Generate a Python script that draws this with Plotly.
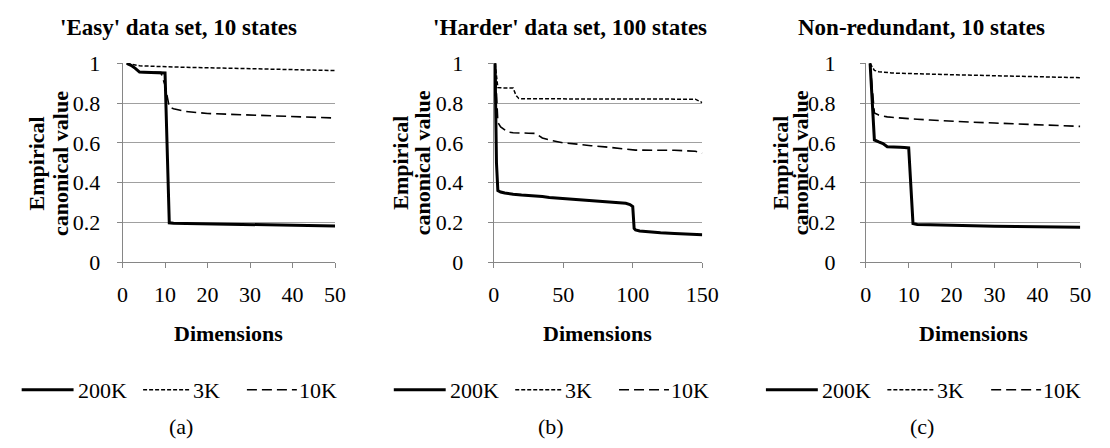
import plotly.graph_objects as go

W, H = 1110, 448

# ---------------- data ----------------
a_x = [1, 2, 3, 4, 5, 6, 7, 8, 9, 10, 11, 12, 15, 20, 25, 30, 35, 40, 45, 50]
a_200k = [1.0, 0.99, 0.975, 0.956, 0.955, 0.955, 0.954, 0.954, 0.953, 0.952,
          0.198, 0.196, 0.195, 0.193, 0.191, 0.189, 0.187, 0.186, 0.184, 0.182]
a_3k = [1.0, 0.995, 0.99, 0.988, 0.987, 0.986, 0.986, 0.985, 0.984, 0.983,
        0.982, 0.981, 0.98, 0.978, 0.976, 0.973, 0.971, 0.968, 0.966, 0.964]
a_10k = [1.0, 0.99, 0.975, 0.958, 0.957, 0.956, 0.956, 0.955, 0.955, 0.89,
         0.78, 0.772, 0.758, 0.748, 0.744, 0.74, 0.735, 0.73, 0.727, 0.725]

b_x = [1, 2, 3, 5, 8, 10, 14, 16, 18, 20, 25, 30, 32, 35, 40, 46, 50, 60, 65, 70,
       80, 88, 95, 98, 100, 101, 102, 105, 110, 120, 130, 140, 145, 150]
b_200k = [1.0, 0.5, 0.36, 0.353, 0.348, 0.345, 0.342, 0.341, 0.339, 0.338, 0.336,
          0.334, 0.332, 0.33, 0.326, 0.323, 0.322, 0.316, 0.313, 0.311, 0.305,
          0.301, 0.296, 0.29, 0.28, 0.17, 0.162, 0.157, 0.153, 0.148, 0.145,
          0.142, 0.14, 0.138]
b_3k = [1.0, 0.93, 0.878, 0.877, 0.877, 0.877, 0.876, 0.84, 0.824, 0.822, 0.822,
        0.822, 0.822, 0.822, 0.822, 0.822, 0.822, 0.822, 0.822, 0.822, 0.822,
        0.822, 0.822, 0.822, 0.822, 0.822, 0.822, 0.822, 0.822, 0.822, 0.822,
        0.821, 0.82, 0.803]
b_10k = [1.0, 0.8, 0.703, 0.68, 0.665, 0.655, 0.651, 0.65, 0.65, 0.65, 0.649,
         0.648, 0.64, 0.625, 0.615, 0.604, 0.6, 0.594, 0.589, 0.586, 0.58,
         0.573, 0.568, 0.566, 0.565, 0.564, 0.564, 0.564, 0.563, 0.563, 0.563,
         0.562, 0.558, 0.549]

c_x = [1, 2, 3, 4, 5, 6, 7, 8, 9, 10, 11, 12, 15, 20, 25, 30, 35, 40, 45, 50]
c_200k = [1.0, 0.615, 0.605, 0.597, 0.581, 0.579, 0.578, 0.578, 0.577, 0.575,
          0.195, 0.19, 0.188, 0.185, 0.183, 0.181, 0.18, 0.178, 0.177, 0.176]
c_3k = [1.0, 0.965, 0.958, 0.955, 0.953, 0.952, 0.951, 0.95, 0.95, 0.949,
        0.948, 0.947, 0.946, 0.943, 0.94, 0.937, 0.934, 0.932, 0.93, 0.928]
c_10k = [1.0, 0.75, 0.74, 0.735, 0.731, 0.729, 0.727, 0.725, 0.723, 0.722,
         0.72, 0.719, 0.715, 0.708, 0.704, 0.7, 0.696, 0.691, 0.687, 0.683]

series_names = ["200K", "3K", "10K"]
titles = ["'Easy' data set, 10 states", "'Harder' data set, 100 states",
          "Non-redundant, 10 states"]
sub_labels = ["(a)", "(b)", "(c)"]
x_ticks_a = [0, 10, 20, 30, 40, 50]
x_ticks_b = [0, 50, 100, 150]
x_ticks_c = [0, 10, 20, 30, 40, 50]
y_ticks = [0, 0.2, 0.4, 0.6, 0.8, 1]
y_tick_text = ["0", "0.2", "0.4", "0.6", "0.8", "1"]
x_title = "Dimensions"
y_title_lines = ["Empirical", "canonical value"]

# ---------------- layout helpers ----------------
FONT = "'Liberation Serif', 'Times New Roman', Times, serif"
GRID = "#a0a0a0"
AXIS = "#868686"
FS = 22

styles = {
    "200K": dict(color="black", width=3, dash="solid"),
    "3K": dict(color="black", width=1.5, dash="4px,2px"),
    "10K": dict(color="black", width=1.6, dash="10px,5px"),
}

def px(x):
    return x / W

def py(y):
    return 1 - y / H

panels = [
    dict(x=a_x, data={"200K": a_200k, "3K": a_3k, "10K": a_10k}, xt=x_ticks_a,
         xr=[0, 50], dom=(119, 336), title_cx=176, yt=(31, 55), ystand=12,
         sub_cx=179, off=0),
    dict(x=b_x, data={"200K": b_200k, "3K": b_3k, "10K": b_10k}, xt=x_ticks_b,
         xr=[0, 150], dom=(498, 711), title_cx=576, yt=(402, 425), ystand=20,
         sub_cx=557, off=380),
    dict(x=c_x, data={"200K": c_200k, "3K": c_3k, "10K": c_10k}, xt=x_ticks_c,
         xr=[0, 50], dom=(878, 1097), title_cx=935, yt=(790, 811), ystand=20,
         sub_cx=935, off=760),
]

PLOT_TOP, PLOT_BOT = 54, 265

fig = go.Figure()
annotations = []
shapes = []

for i, p in enumerate(panels):
    n = "" if i == 0 else str(i + 1)
    xa, ya = "x" + n, "y" + n
    for name in ["10K", "3K", "200K"]:
        fig.add_trace(go.Scatter(x=p["x"], y=p["data"][name], mode="lines",
                                 name=name, line=styles[name], showlegend=False,
                                 xaxis=xa, yaxis=ya))
    fig.update_layout({
        "xaxis" + n: dict(domain=[px(p["dom"][0]), px(p["dom"][1])], range=p["xr"],
                          anchor=ya, tickvals=p["xt"], showgrid=False, zeroline=False,
                          showline=True, linecolor=AXIS, linewidth=1,
                          ticks="outside", ticklen=5, tickcolor=AXIS, tickwidth=1,
                          ticklabelstandoff=7,
                          tickfont=dict(family=FONT, size=FS, color="black")),
        "yaxis" + n: dict(domain=[py(PLOT_BOT), py(PLOT_TOP)], range=[0, 1.002],
                          anchor=xa, tickvals=y_ticks, ticktext=y_tick_text,
                          showgrid=True, gridcolor=GRID, gridwidth=1, zeroline=False,
                          showline=True, linecolor=AXIS, linewidth=1,
                          ticks="outside", ticklen=5, tickcolor=AXIS, tickwidth=1,
                          ticklabelstandoff=p["ystand"],
                          tickfont=dict(family=FONT, size=FS, color="black")),
    })
    # title
    annotations.append(dict(text="<b>" + titles[i] + "</b>", x=px(p["title_cx"]), y=py(16),
                            xref="paper", yref="paper", xanchor="center", yanchor="middle",
                            showarrow=False, font=dict(family=FONT, size=23, color="black")))
    # y title (two lines)
    for line_txt, lx in zip(y_title_lines, p["yt"]):
        annotations.append(dict(text="<b>" + line_txt + "</b>", x=px(lx), y=py(160),
                                textangle=-90, xref="paper", yref="paper",
                                xanchor="center", yanchor="middle", showarrow=False,
                                font=dict(family=FONT, size=FS, color="black")))
    # x title
    cx = (p["dom"][0] + p["dom"][1]) / 2
    annotations.append(dict(text="<b>" + x_title + "</b>", x=px(cx), y=py(340),
                            xref="paper", yref="paper", xanchor="center", yanchor="middle",
                            showarrow=False, font=dict(family=FONT, size=FS, color="black")))
    # sub label
    annotations.append(dict(text=sub_labels[i], x=px(p["sub_cx"]), y=py(439),
                            xref="paper", yref="paper", xanchor="center", yanchor="middle",
                            showarrow=False, font=dict(family=FONT, size=FS, color="black")))
    # legend
    o = p["off"]
    leg = [("200K", 16, 69, 71), ("3K", 140, 189, 189), ("10K", 246, 297, 297)]
    for name, x0, x1, tx in leg:
        st = styles[name]
        shapes.append(dict(type="line", xref="paper", yref="paper",
                           x0=px(x0 + o), x1=px(x1 + o), y0=py(400), y1=py(400),
                           line=dict(color=st["color"], width=st["width"], dash=st["dash"])))
        annotations.append(dict(text=name, x=px(tx + o), y=py(401), xref="paper", yref="paper",
                                xanchor="left", yanchor="middle", showarrow=False,
                                font=dict(family=FONT, size=FS, color="black")))

fig.update_layout(width=W, height=H, autosize=False,
                  margin=dict(l=0, r=0, t=0, b=0),
                  paper_bgcolor="white", plot_bgcolor="white",
                  annotations=annotations, shapes=shapes,
                  font=dict(family=FONT, size=FS, color="black"))

fig.write_html("out.html")
